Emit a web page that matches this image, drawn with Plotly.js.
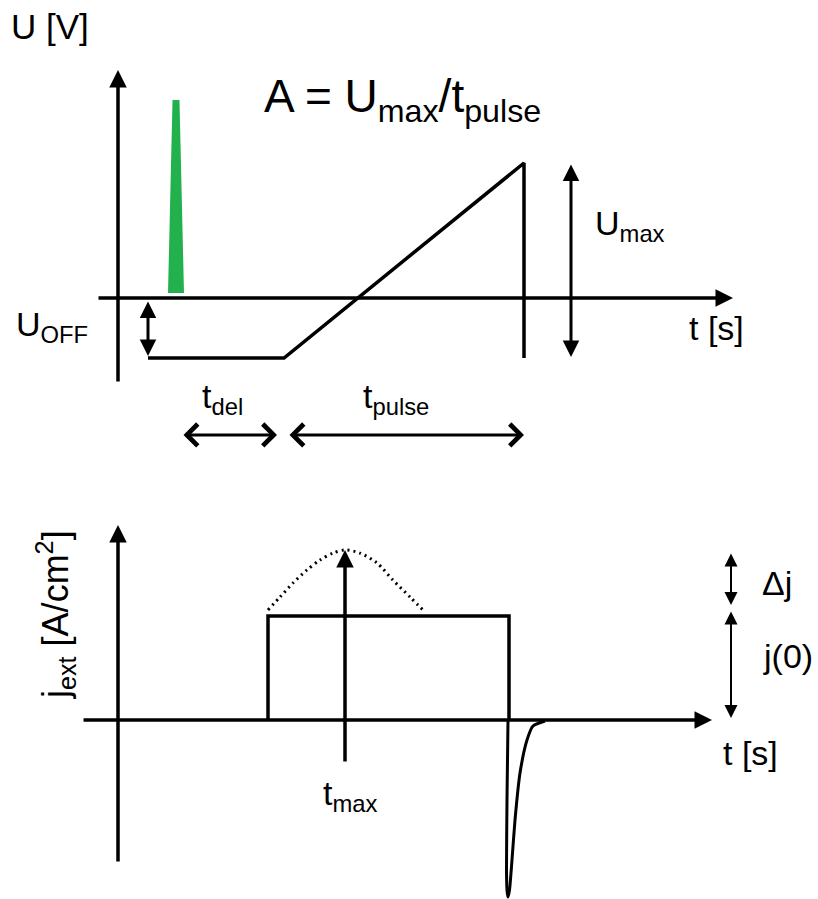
<!DOCTYPE html>
<html>
<head>
<meta charset="utf-8">
<script src="https://cdn.plot.ly/plotly-3.0.1.min.js"></script>
<style>
  html, body { margin: 0; padding: 0; background: #fff; }
  #chart { width: 818px; height: 899px; }
</style>
</head>
<body>
<div id="chart"></div>
<script>
// ---- Upper panel: applied voltage U(t) ----
// offset plateau, then linear ramp up to U_max, then switch-off
const pulseT = [3.0, 16.6, 40.6, 40.6];
const pulseU = [-4, -4, 9, -4];
// short green trigger spike
const triggerT = [5.1, 5.55, 6.05, 6.5];
const triggerU = [0.33, 13.13, 13.13, 0.33];

// ---- Lower panel: external current density j_ext(t) ----
const stepT = [15.0, 15.0, 39.1, 39.1];
const stepJ = [0, 4, 4, 0];
// dotted hump reaching its maximum at t_max
const humpT = [15.0, 16.2, 17.5, 18.9, 20.2, 21.5, 22.7, 24.2, 25.9, 27.5, 29.2, 30.7];
const humpJ = [4.23, 4.73, 5.27, 5.77, 6.15, 6.42, 6.54, 6.42, 6.04, 5.38, 4.73, 4.15];
// negative discharge peak after switch-off
const tailT = [39.0, 38.9, 38.85, 38.9, 39.0, 39.15, 39.4, 39.7, 40.2, 40.9, 41.5, 42.7];
const tailJ = [0, -3.08, -5.77, -6.54, -6.81, -6.54, -5.38, -3.85, -2.04, -0.77, -0.23, -0.04];

const W = 818, H = 899;
const FONT = 'Liberation Sans, Arial, sans-serif';
const split = 1 - 470 / H;

function arrow(xr, yr, from, to, opts) {
  return Object.assign({
    xref: xr, yref: yr, axref: xr, ayref: yr,
    x: to[0], y: to[1], ax: from[0], ay: from[1],
    text: '', showarrow: true,
    arrowhead: 2, arrowsize: 1, arrowwidth: 3.5, arrowcolor: '#000'
  }, opts || {});
}
function both(head, size, width) {
  return { arrowside: 'end+start', arrowhead: head, startarrowhead: head,
           arrowsize: size, startarrowsize: size, arrowwidth: width };
}
function label(text, px, py, size, xanchor, extra) {
  return Object.assign({
    xref: 'paper', yref: 'paper', x: px / W, y: 1 - py / H,
    text: text, showarrow: false,
    xanchor: xanchor || 'left', yanchor: 'middle',
    font: { family: FONT, size: size, color: '#000' }
  }, extra || {});
}

const traces = [
  { x: pulseT, y: pulseU, xaxis: 'x', yaxis: 'y', mode: 'lines',
    line: { color: '#000', width: 3.5 }, hoverinfo: 'skip' },
  { x: triggerT, y: triggerU, xaxis: 'x', yaxis: 'y', mode: 'lines',
    fill: 'toself', fillcolor: '#22b14c',
    line: { color: '#22b14c', width: 2 }, hoverinfo: 'skip' },
  { x: stepT, y: stepJ, xaxis: 'x2', yaxis: 'y2', mode: 'lines',
    line: { color: '#000', width: 3.5 }, hoverinfo: 'skip' },
  { x: humpT, y: humpJ, xaxis: 'x2', yaxis: 'y2', mode: 'lines',
    line: { color: '#000', width: 3, dash: '2px,4px', shape: 'spline', smoothing: 0.8 },
    hoverinfo: 'skip' },
  { x: tailT, y: tailJ, xaxis: 'x2', yaxis: 'y2', mode: 'lines',
    line: { color: '#000', width: 3, shape: 'spline', smoothing: 0.6 },
    hoverinfo: 'skip', cliponaxis: false }
];

const annotations = [
  // upper panel axes
  arrow('x', 'y', [0, -5.67], [0, 15.2]),
  arrow('x', 'y', [-2.1, 0], [61.5, 0]),
  // U_OFF and U_max markers
  arrow('x', 'y', [3.0, -0.13], [3.0, -3.87], both(2, 1.1, 3)),
  arrow('x', 'y', [45.3, 9.0], [45.3, -3.93], both(2, 1.1, 3)),
  // t_del and t_pulse spans
  arrow('x', 'y', [6.4, -9.13], [15.9, -9.13], both(4, 1.4, 3)),
  arrow('x', 'y', [17.0, -9.13], [40.6, -9.13], both(4, 1.4, 3)),

  // lower panel axes
  arrow('x2', 'y2', [0, -5.5], [0, 7.5]),
  arrow('x2', 'y2', [-3.6, 0], [59.4, 0]),
  // t_max marker
  arrow('x2', 'y2', [22.7, -1.65], [22.7, 6.54], { arrowwidth: 3.5 }),
  // Δj and j(0)
  arrow('x2', 'y2', [61.3, 6.46], [61.3, 4.42], both(2, 1.3, 2)),
  arrow('x2', 'y2', [61.3, 4.23], [61.3, 0.08], both(2, 1.3, 2)),

  // texts
  label('U [V]', 9, 26, 35),
  label('A = U<sub>max</sub>/t<sub>pulse</sub>', 262, 99, 46),
  label('U<sub>max</sub>', 593, 226, 34),
  label('t [s]', 687, 328, 34),
  label('U<sub>OFF</sub>', 14, 326, 34),
  label('t<sub>del</sub>', 200, 398, 34),
  label('t<sub>pulse</sub>', 361, 398, 34),

  label('Δj', 760, 583, 34),
  label('j(0)', 761, 656, 34),
  label('t [s]', 721, 753, 34),
  label('t<sub>max</sub>', 350, 795, 34, 'center'),
  label('j<sub>ext</sub> [A/cm<sup>2</sup>]', 55, 615, 36, 'center', { textangle: -90 })
];

const hidden = { visible: false, fixedrange: true };
const layout = {
  width: W, height: H,
  margin: { l: 0, r: 0, t: 0, b: 0 },
  paper_bgcolor: '#fff', plot_bgcolor: '#fff',
  showlegend: false,
  xaxis: Object.assign({ range: [-11.8, 70.0], domain: [0, 1], anchor: 'y' }, hidden),
  yaxis: Object.assign({ range: [-11.467, 19.867], domain: [split, 1], anchor: 'x' }, hidden),
  xaxis2: Object.assign({ range: [-11.8, 70.0], domain: [0, 1], anchor: 'y2' }, hidden),
  yaxis2: Object.assign({ range: [-6.885, 9.615], domain: [0, split], anchor: 'x2' }, hidden),
  annotations: annotations
};

Plotly.newPlot('chart', traces, layout, { staticPlot: true, displayModeBar: false });
</script>
</body>
</html>
